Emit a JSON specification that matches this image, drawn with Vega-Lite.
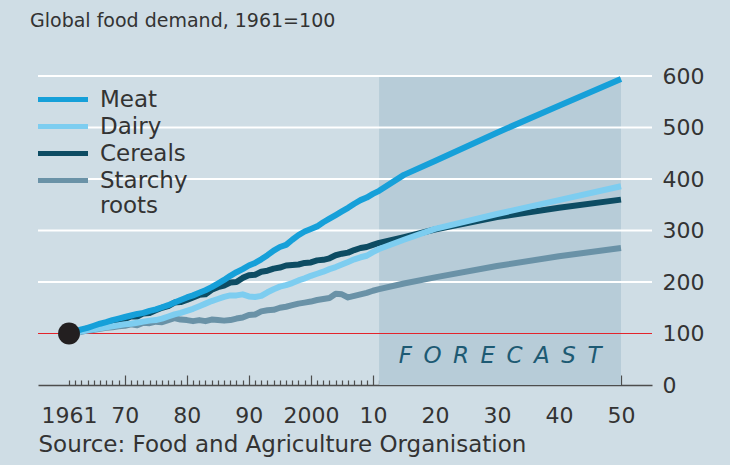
{
  "$schema": "https://vega.github.io/schema/vega-lite/v6.json",
  "width": 614,
  "height": 309,
  "autosize": {"type": "none"},
  "padding": {"left": 38, "top": 76, "right": 78, "bottom": 80},
  "background": "#cfdde5",
  "config": {
    "view": {"stroke": null},
    "font": "DejaVu Sans",
    "axisX": {"labelOverlap": false, "labelFlush": false, "labelBound": false}
  },
  "title": {
    "text": "Global food demand, 1961=100",
    "anchor": "start",
    "frame": "group",
    "baseline": "alphabetic",
    "offset": 19,
    "dx": -8,
    "fontSize": 19,
    "fontWeight": "normal",
    "font": "DejaVu Sans",
    "color": "#333333"
  },
  "data": {
    "values": [
      {"year": 1961, "Meat": 100, "Dairy": 100, "Cereals": 100, "Starchy roots": 100},
      {"year": 1962, "Meat": 104, "Dairy": 102, "Cereals": 103, "Starchy roots": 102},
      {"year": 1963, "Meat": 108, "Dairy": 104, "Cereals": 106, "Starchy roots": 103},
      {"year": 1964, "Meat": 111, "Dairy": 106, "Cereals": 110, "Starchy roots": 106},
      {"year": 1965, "Meat": 115, "Dairy": 108, "Cereals": 112, "Starchy roots": 107},
      {"year": 1966, "Meat": 119, "Dairy": 110, "Cereals": 117, "Starchy roots": 109},
      {"year": 1967, "Meat": 122, "Dairy": 112, "Cereals": 120, "Starchy roots": 111},
      {"year": 1968, "Meat": 126, "Dairy": 114, "Cereals": 123, "Starchy roots": 112},
      {"year": 1969, "Meat": 129, "Dairy": 116, "Cereals": 125, "Starchy roots": 114},
      {"year": 1970, "Meat": 132, "Dairy": 118, "Cereals": 128, "Starchy roots": 115},
      {"year": 1971, "Meat": 135, "Dairy": 119, "Cereals": 133, "Starchy roots": 118},
      {"year": 1972, "Meat": 138, "Dairy": 121, "Cereals": 133, "Starchy roots": 116},
      {"year": 1973, "Meat": 140, "Dairy": 123, "Cereals": 139, "Starchy roots": 121},
      {"year": 1974, "Meat": 144, "Dairy": 125, "Cereals": 140, "Starchy roots": 120},
      {"year": 1975, "Meat": 147, "Dairy": 126, "Cereals": 145, "Starchy roots": 123},
      {"year": 1976, "Meat": 151, "Dairy": 129, "Cereals": 150, "Starchy roots": 122},
      {"year": 1977, "Meat": 155, "Dairy": 133, "Cereals": 153, "Starchy roots": 126},
      {"year": 1978, "Meat": 160, "Dairy": 137, "Cereals": 160, "Starchy roots": 130},
      {"year": 1979, "Meat": 165, "Dairy": 140, "Cereals": 161, "Starchy roots": 127},
      {"year": 1980, "Meat": 170, "Dairy": 144, "Cereals": 165, "Starchy roots": 126},
      {"year": 1981, "Meat": 174, "Dairy": 148, "Cereals": 170, "Starchy roots": 124},
      {"year": 1982, "Meat": 179, "Dairy": 153, "Cereals": 175, "Starchy roots": 126},
      {"year": 1983, "Meat": 184, "Dairy": 158, "Cereals": 176, "Starchy roots": 124},
      {"year": 1984, "Meat": 190, "Dairy": 163, "Cereals": 185, "Starchy roots": 127},
      {"year": 1985, "Meat": 197, "Dairy": 167, "Cereals": 190, "Starchy roots": 126},
      {"year": 1986, "Meat": 204, "Dairy": 171, "Cereals": 193, "Starchy roots": 125},
      {"year": 1987, "Meat": 212, "Dairy": 174, "Cereals": 199, "Starchy roots": 126},
      {"year": 1988, "Meat": 219, "Dairy": 174, "Cereals": 200, "Starchy roots": 129},
      {"year": 1989, "Meat": 225, "Dairy": 176, "Cereals": 208, "Starchy roots": 131},
      {"year": 1990, "Meat": 232, "Dairy": 172, "Cereals": 213, "Starchy roots": 136},
      {"year": 1991, "Meat": 237, "Dairy": 171, "Cereals": 214, "Starchy roots": 137},
      {"year": 1992, "Meat": 244, "Dairy": 173, "Cereals": 220, "Starchy roots": 143},
      {"year": 1993, "Meat": 252, "Dairy": 180, "Cereals": 222, "Starchy roots": 145},
      {"year": 1994, "Meat": 261, "Dairy": 186, "Cereals": 226, "Starchy roots": 146},
      {"year": 1995, "Meat": 268, "Dairy": 191, "Cereals": 228, "Starchy roots": 150},
      {"year": 1996, "Meat": 272, "Dairy": 194, "Cereals": 232, "Starchy roots": 152},
      {"year": 1997, "Meat": 282, "Dairy": 198, "Cereals": 233, "Starchy roots": 155},
      {"year": 1998, "Meat": 291, "Dairy": 203, "Cereals": 234, "Starchy roots": 158},
      {"year": 1999, "Meat": 298, "Dairy": 207, "Cereals": 237, "Starchy roots": 160},
      {"year": 2000, "Meat": 303, "Dairy": 212, "Cereals": 238, "Starchy roots": 162},
      {"year": 2001, "Meat": 308, "Dairy": 216, "Cereals": 242, "Starchy roots": 165},
      {"year": 2002, "Meat": 316, "Dairy": 220, "Cereals": 243, "Starchy roots": 167},
      {"year": 2003, "Meat": 323, "Dairy": 225, "Cereals": 246, "Starchy roots": 169},
      {"year": 2004, "Meat": 330, "Dairy": 229, "Cereals": 252, "Starchy roots": 177},
      {"year": 2005, "Meat": 337, "Dairy": 234, "Cereals": 255, "Starchy roots": 176},
      {"year": 2006, "Meat": 344, "Dairy": 239, "Cereals": 257, "Starchy roots": 170},
      {"year": 2007, "Meat": 352, "Dairy": 244, "Cereals": 262, "Starchy roots": 173},
      {"year": 2008, "Meat": 359, "Dairy": 248, "Cereals": 266, "Starchy roots": 176},
      {"year": 2009, "Meat": 364, "Dairy": 251, "Cereals": 268, "Starchy roots": 179},
      {"year": 2010, "Meat": 371, "Dairy": 258, "Cereals": 272, "Starchy roots": 183},
      {"year": 2011, "Meat": 377, "Dairy": 264, "Cereals": 276, "Starchy roots": 186},
      {"year": 2015, "Meat": 408, "Dairy": 282, "Cereals": 287, "Starchy roots": 197},
      {"year": 2020, "Meat": 435, "Dairy": 303, "Cereals": 302, "Starchy roots": 209},
      {"year": 2030, "Meat": 490, "Dairy": 332, "Cereals": 326, "Starchy roots": 231},
      {"year": 2040, "Meat": 542, "Dairy": 359, "Cereals": 344, "Starchy roots": 250},
      {"year": 2050, "Meat": 594, "Dairy": 386, "Cereals": 360, "Starchy roots": 266}
    ]
  },
  "layer": [
    {
      "data": {"values": [{}]},
      "mark": {"type": "rect", "color": "#b7ccd8"},
      "encoding": {
        "x": {"datum": 2011, "type": "quantitative"},
        "x2": {"datum": 2050},
        "y": {"datum": 0, "type": "quantitative"},
        "y2": {"datum": 600}
      }
    },
    {
      "data": {"values": [{"g": 200}, {"g": 300}, {"g": 400}, {"g": 500}, {"g": 600}]},
      "mark": {"type": "rule", "color": "#ffffff", "strokeWidth": 2},
      "encoding": {
        "y": {"field": "g", "type": "quantitative"}
      }
    },
    {
      "data": {"values": [{}]},
      "mark": {"type": "rule", "color": "#e3242b", "strokeWidth": 1.2},
      "encoding": {
        "y": {"datum": 100, "type": "quantitative"}
      }
    },
    {
      "transform": [
        {"fold": ["Starchy roots", "Cereals", "Dairy", "Meat"], "as": ["series", "value"]}
      ],
      "mark": {"type": "line", "strokeWidth": 6, "strokeJoin": "round", "strokeCap": "butt"},
      "encoding": {
        "x": {
          "field": "year",
          "type": "quantitative",
          "scale": {"domain": [1956, 2055], "nice": false, "zero": false},
          "axis": {
            "title": "Source: Food and Agriculture Organisation",
            "titleFont": "DejaVu Sans",
            "titleFontSize": 23,
            "titleFontWeight": "normal",
            "titleColor": "#333333",
            "titleX": 0,
            "titleY": 66,
            "titleAlign": "left",
            "titleAnchor": "start",
            "titleBaseline": "alphabetic",
            "grid": false,
            "domain": true,
            "domainColor": "#4d4d4d",
            "domainWidth": 1.5,
            "ticks": true,
            "tickColor": "#4d4d4d",
            "tickWidth": 1.2,
            "tickSize": {"condition": {"test": "datum.value % 10 == 0", "value": -10}, "value": -5},
            "tickCount": 200,
            "values": [1961, 1962, 1963, 1964, 1965, 1966, 1967, 1968, 1969, 1970, 1971, 1972, 1973, 1974, 1975, 1976, 1977, 1978, 1979, 1980, 1981, 1982, 1983, 1984, 1985, 1986, 1987, 1988, 1989, 1990, 1991, 1992, 1993, 1994, 1995, 1996, 1997, 1998, 1999, 2000, 2001, 2002, 2003, 2004, 2005, 2006, 2007, 2008, 2009, 2010, 2011, 2012, 2013, 2014, 2015, 2016, 2017, 2018, 2019, 2020, 2021, 2022, 2023, 2024, 2025, 2026, 2027, 2028, 2029, 2030, 2031, 2032, 2033, 2034, 2035, 2036, 2037, 2038, 2039, 2040, 2041, 2042, 2043, 2044, 2045, 2046, 2047, 2048, 2049, 2050],
            "format": "d",
            "labelExpr": "datum.value == 1961 ? '1961' : (datum.value == 2000 ? '2000' : (datum.value % 10 == 0 ? toString(datum.value % 100) : ''))",
            "labelOverlap": false,
            "labelFlush": false,
            "labelBound": false,
            "labelFont": "DejaVu Sans",
            "labelFontSize": 22,
            "labelColor": "#333333",
            "labelBaseline": "alphabetic",
            "labelPadding": {"condition": {"test": "datum.value % 10 == 0", "value": 47}, "value": 42}
          }
        },
        "y": {
          "field": "value",
          "type": "quantitative",
          "scale": {"domain": [0, 600], "nice": false},
          "axis": {
            "orient": "right",
            "title": null,
            "values": [0, 100, 200, 300, 400, 500, 600],
            "grid": false,
            "domain": false,
            "ticks": false,
            "labelAlign": "left",
            "labelBaseline": "middle",
            "labelPadding": 10,
            "labelFont": "DejaVu Sans",
            "labelFontSize": 22,
            "labelColor": "#333333"
          }
        },
        "color": {
          "field": "series",
          "type": "nominal",
          "scale": {
            "domain": ["Meat", "Dairy", "Cereals", "Starchy roots"],
            "range": ["#16a0d9", "#7dcdf0", "#0d4c63", "#6a92a7"]
          },
          "legend": {
            "title": null,
            "orient": "none",
            "legendX": 12.5,
            "legendY": 11,
            "padding": 0,
            "symbolType": "M-2.5,0H2.5",
            "symbolSize": 400,
            "symbolStrokeWidth": 5,
            "labelFont": "DejaVu Sans",
            "labelFontSize": 23,
            "labelColor": "#333333",
            "labelOffset": 24.5,
            "rowPadding": 2,
            "labelExpr": "datum.label == 'Starchy roots' ? ['Starchy', 'roots'] : datum.label"
          }
        }
      }
    },
    {
      "data": {"values": [{}]},
      "mark": {"type": "point", "filled": true, "size": 480, "color": "#231f20", "opacity": 1},
      "encoding": {
        "x": {"datum": 1961, "type": "quantitative"},
        "y": {"datum": 100, "type": "quantitative"}
      }
    },
    {
      "data": {"values": [{}]},
      "mark": {
        "type": "text",
        "text": "F\u2002O\u2002R\u2002E\u2002C\u2002A\u2002S\u2002T",
        "font": "DejaVu Sans",
        "fontStyle": "italic",
        "fontSize": 23,
        "color": "#1d5a73",
        "align": "center",
        "baseline": "middle"
      },
      "encoding": {
        "x": {"datum": 2030.5, "type": "quantitative"},
        "y": {"datum": 56, "type": "quantitative"}
      }
    }
  ]
}
